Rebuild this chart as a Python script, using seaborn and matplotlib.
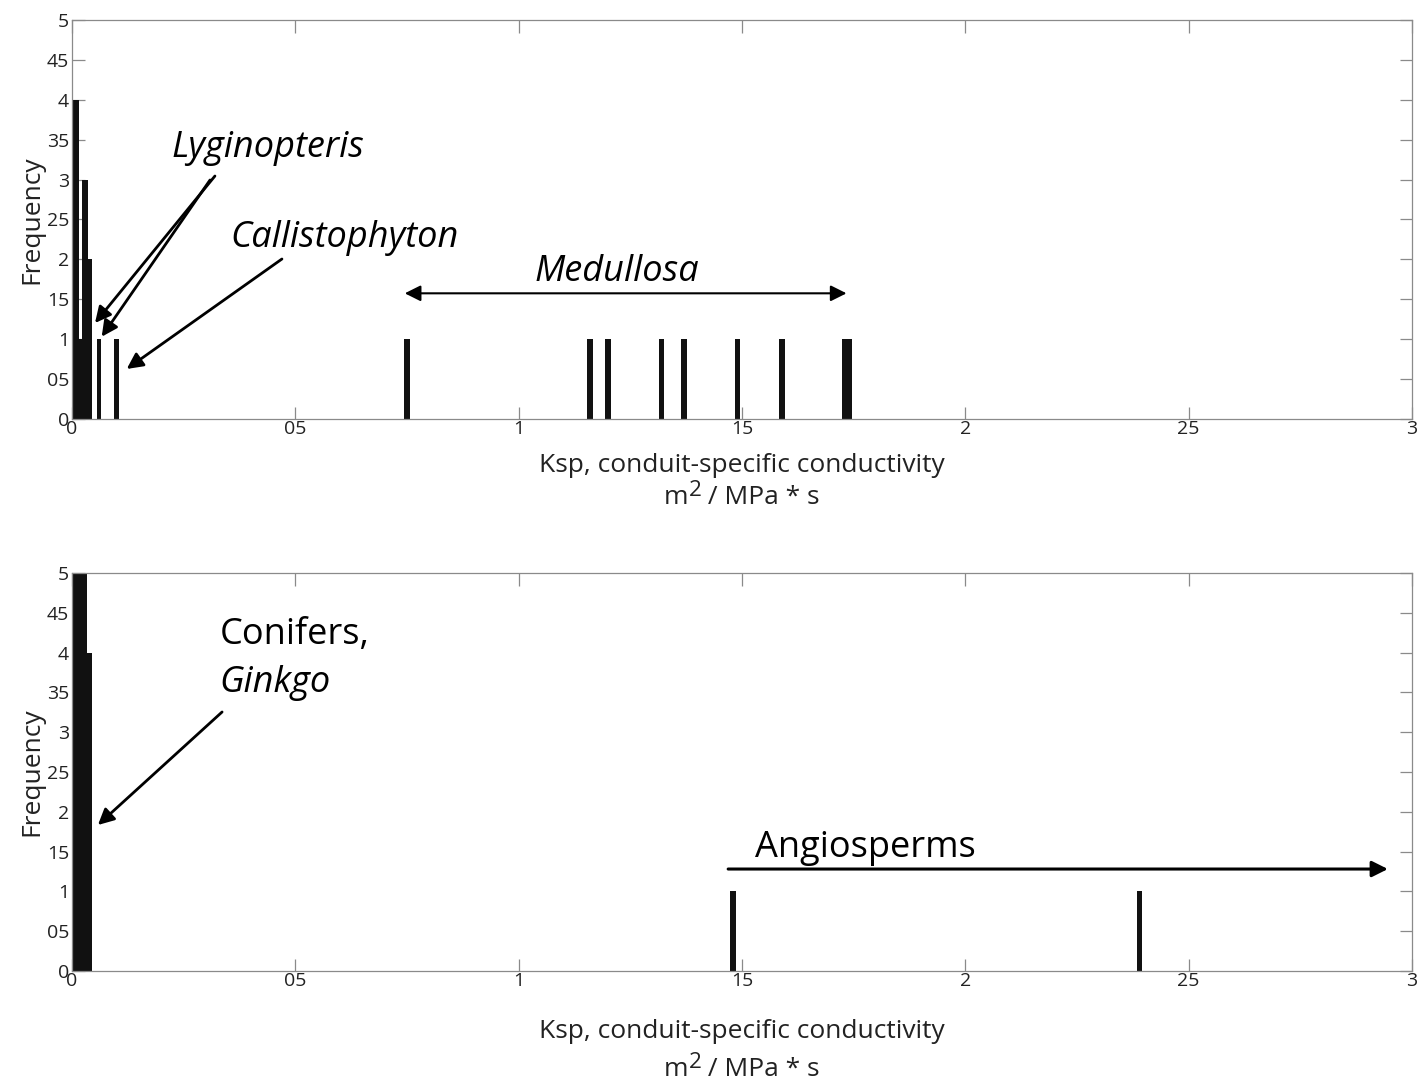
import matplotlib
matplotlib.use("Agg")
import matplotlib.pyplot as plt
import seaborn as sns
import numpy as np

# ---------------- data ----------------
# top panel: early overlapping bins near zero (left edge, width, count)
top_near_left = [0.0015, 0.003, 0.023, 0.025, 0.055, 0.094]
top_near_width = [0.0235, 0.013, 0.013, 0.020, 0.010, 0.011]
top_near_count = [1, 4, 3, 2, 1, 1]
# Medullosa single bars (centres)
medullosa_x = [0.750, 1.160, 1.200, 1.320, 1.370, 1.490, 1.589, 1.731, 1.740]
medullosa_count = [1, 1, 1, 1, 1, 1, 1, 1, 1]

# bottom panel
bot_near_left = [0.0015, 0.003]
bot_near_width = [0.0435, 0.031]
bot_near_count = [4, 5]
angio_x = [1.480, 2.390]
angio_count = [1, 1]

xticks = [0, 0.5, 1, 1.5, 2, 2.5, 3]
xticklabels = ["0", "05", "1", "15", "2", "25", "3"]
yticks = [0, 0.5, 1, 1.5, 2, 2.5, 3, 3.5, 4, 4.5, 5]
yticklabels = ["0", "05", "1", "15", "2", "25", "3", "35", "4", "45", "5"]

# ---------------- style ----------------
sns.set_theme(style="white")
plt.rcParams["font.family"] = ["Open Sans", "DejaVu Sans"]

BAR = "#111111"
SPINE = "#8a8a8a"
TXT = "#222222"

fig = plt.figure(figsize=(14.18, 10.84), dpi=100)
W, H = 1418, 1084
ax1 = fig.add_axes([72 / W, 1 - 419 / H, 1340 / W, 399 / H])
ax2 = fig.add_axes([72 / W, 1 - 971 / H, 1340 / W, 398 / H])

single_w = 0.0123

ax1.bar(top_near_left, top_near_count, width=top_near_width, align="edge",
        color=BAR, edgecolor="none", linewidth=0)
ax1.bar(medullosa_x, medullosa_count, width=single_w, align="center",
        color=BAR, edgecolor="none", linewidth=0)
ax2.bar(bot_near_left, bot_near_count, width=bot_near_width, align="edge",
        color=BAR, edgecolor="none", linewidth=0)
ax2.bar(angio_x, angio_count, width=single_w, align="center",
        color=BAR, edgecolor="none", linewidth=0)

for ax in (ax1, ax2):
    ax.set_xlim(0, 3)
    ax.set_ylim(0, 5)
    ax.set_xticks(xticks)
    ax.set_xticklabels(xticklabels)
    ax.set_yticks(yticks)
    ax.set_yticklabels(yticklabels)
    ax.tick_params(axis="both", direction="in", length=9, width=0.9,
                   color=SPINE, labelcolor=TXT, labelsize=14,
                   top=True, right=True, bottom=True, left=True)
    ax.tick_params(axis="y", pad=2)
    ax.tick_params(axis="x", pad=1)
    for s in ax.spines.values():
        s.set_color(SPINE)
        s.set_linewidth(0.9)
    ax.set_ylabel("Frequency", fontsize=19, color=TXT, labelpad=2)
    ax.grid(False)


def unit_label(ycen):
    # "m² / MPa * s" with a large raised 2, centred at x=742 px
    fs = 19
    t1 = fig.text(0, 0, "m", fontsize=fs, color=TXT)
    t2 = fig.text(0, 0, "2", fontsize=fs * 0.85, color=TXT)
    t3 = fig.text(0, 0, " / MPa * s", fontsize=fs, color=TXT)
    r = fig.canvas.get_renderer()
    w1 = t1.get_window_extent(r).width
    w2 = t2.get_window_extent(r).width
    w3 = t3.get_window_extent(r).width
    x0 = 742 - (w1 + w2 + w3) / 2
    t1.set_position((x0 / W, 1 - ycen / H)); t1.set_va("center")
    t2.set_position(((x0 + w1) / W, 1 - (ycen - 7) / H)); t2.set_va("center")
    t3.set_position(((x0 + w1 + w2) / W, 1 - ycen / H)); t3.set_va("center")


fig.text(742 / W, 1 - 465 / H, "Ksp, conduit-specific conductivity",
         ha="center", va="center", fontsize=19, color=TXT)
unit_label(497)
fig.text(742 / W, 1 - 1032 / H, "Ksp, conduit-specific conductivity",
         ha="center", va="center", fontsize=19, color=TXT)
unit_label(1069)

# ---------------- annotations top ----------------
FS = 26
arrow_kw = dict(arrowstyle="-|>", color="black", lw=2.0,
                mutation_scale=24, shrinkA=0, shrinkB=0)
ax1.text(0.439, 3.39, "Lyginopteris", style="italic", fontsize=FS,
         ha="center", va="center", color="black")
ax1.annotate("", xy=(0.0515, 1.203), xytext=(0.320, 3.045), arrowprops=arrow_kw)
ax1.annotate("", xy=(0.0665, 1.031), xytext=(0.309, 2.995), arrowprops=arrow_kw)
ax1.text(0.611, 2.27, "Callistophyton", style="italic", fontsize=FS,
         ha="center", va="center", color="black")
ax1.annotate("", xy=(0.1225, 0.627), xytext=(0.470, 2.005), arrowprops=arrow_kw)
ax1.text(1.219, 1.846, "Medullosa", style="italic", fontsize=FS,
         ha="center", va="center", color="black")
ax1.annotate("", xy=(0.745, 1.575), xytext=(1.734, 1.575),
             arrowprops=dict(arrowstyle="<|-|>", color="black", lw=1.5,
                             mutation_scale=24, shrinkA=0, shrinkB=0))

# ---------------- annotations bottom ----------------
ax2.text(0.331, 4.22, "Conifers,", fontsize=FS, ha="left", va="center",
         color="black")
ax2.text(0.331, 3.62, "Ginkgo", style="italic", fontsize=FS, ha="left",
         va="center", color="black")
ax2.annotate("", xy=(0.058, 1.834), xytext=(0.336, 3.254), arrowprops=arrow_kw)
ax2.text(1.529, 1.545, "Angiosperms", fontsize=FS, ha="left", va="center",
         color="black")
ax2.annotate("", xy=(2.946, 1.281), xytext=(1.469, 1.281),
             arrowprops=dict(arrowstyle="-|>", color="black", lw=2.2,
                             mutation_scale=24, shrinkA=0, shrinkB=0))

fig.savefig("out.png", dpi=100, facecolor="white")
